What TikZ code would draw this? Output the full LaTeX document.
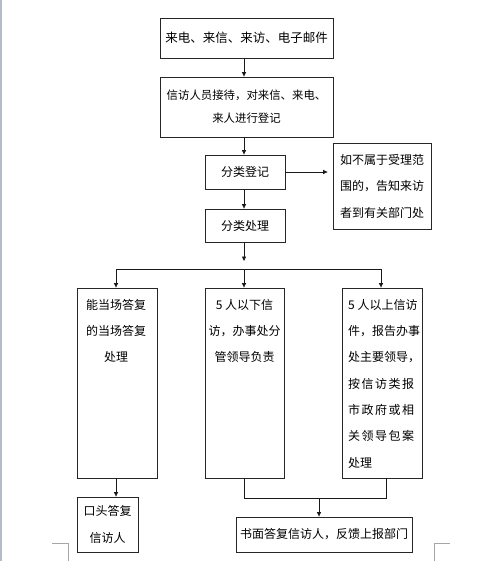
\documentclass[tikz,border=0pt]{standalone}
\usepackage{fontspec}
\setmainfont{Noto Sans CJK SC}
\usetikzlibrary{arrows.meta,calc}
\begin{document}
\begin{tikzpicture}[x=1pt,y=-1pt,
  box/.style={draw=black!85, line width=0.8pt, inner sep=0pt, align=center,
    font=\fontsize{12pt}{23pt}\selectfont},
  txt/.style={inner sep=0pt, font=\fontsize{12pt}{26.3pt}\selectfont},
  arr/.style={draw=black!90, line width=0.7pt, -{Triangle[length=4.5pt,width=4pt]}},
  ln/.style={draw=black!90, line width=0.7pt},
  cornermark/.style={draw=gray!70, line width=0.7pt}]
\useasboundingbox (0,0) rectangle (500,561);
\fill[white] (0,0) rectangle (500,561);
\draw[draw={rgb,255:red,180;green,188;blue,200}, line width=1.5pt] (0.75,0) -- (0.75,561);
% boxes
\node[box, minimum width=173pt, minimum height=40pt, font=\fontsize{12.5pt}{23pt}\selectfont] (b1) at (246.5,38) {来电、来信、来访、电子邮件};
\node[box, minimum width=173pt, minimum height=60pt, font=\fontsize{11.4pt}{23pt}\selectfont] (b2) at (246.5,107) {信访人员接待，对来信、来电、\\来人进行登记};
\node[box, minimum width=80pt, minimum height=34pt] (b3) at (245,172) {分类登记};
\node[box, minimum width=98pt, minimum height=86pt, font=\fontsize{12pt}{26.5pt}\selectfont] (side) at (382,186) {如不属于受理范\\围的，告知来访\\者到有关部门处};
\node[box, minimum width=80pt, minimum height=33pt] (b4) at (245,225.5) {分类处理};
\node[box, minimum width=80pt, minimum height=190pt] (b5) at (117,383) {};
\node[box, minimum width=79pt, minimum height=190pt] (b6) at (244.5,383) {};
\node[box, minimum width=80pt, minimum height=190pt] (b7) at (382,383) {};
\node[box, minimum width=61pt, minimum height=55pt, font=\fontsize{12pt}{27pt}\selectfont] (b8) at (107.5,524.5) {口头答复\\信访人};
\node[box, minimum width=176pt, minimum height=35pt] (b9) at (324,534.5) {书面答复信访人，反馈上报部门};
% texts in tall boxes
\node[txt, anchor=north, align=center] (t5) at (116,299) {能当场答复\\的当场答复\\处理};
\node[txt, anchor=north, align=center] (t6) at (244.5,299) {5 人以下信\\访，办事处分\\管领导负责};
\node[txt, anchor=north west, align=left] (t7) at (348,299) {5 人以上信访\\件，报告办事\\处主要领导，\\
  \makebox[66pt][s]{按\hfill 信\hfill 访\hfill 类\hfill 报}\\
  \makebox[66pt][s]{市\hfill 政\hfill 府\hfill 或\hfill 相}\\
  \makebox[66pt][s]{关\hfill 领\hfill 导\hfill 包\hfill 案}\\处理};
% connectors
\coordinate (j0) at (244,261);
\coordinate (hl) at (116,269);
\coordinate (hm) at (244,269);
\coordinate (hr) at (381,269);
\coordinate (m1) at (244,498);
\coordinate (m2) at (386,498);
\coordinate (m3) at (386,478);
\coordinate (mc) at (319,498);
\draw[arr] (b1.south -| 244,0) -- (b2.north -| 244,0);
\draw[arr] (b2.south -| 244,0) -- (b3.north -| 244,0);
\draw[arr] (b3.south -| 244,0) -- (b4.north -| 244,0);
\draw[arr, shorten >=5pt] (b3.east) -- (b3.east -| side.west);
\draw[arr] (b4.south -| j0) -- (j0);
\draw[ln] (hl) -- (hr);
\draw[arr] (hl) -- (hl |- b5.north);
\draw[arr] (hm) -- (hm |- b6.north);
\draw[arr] (hr) -- (hr |- b7.north);
\draw[arr] (b5.south -| hl) -- (hl |- b8.north);
\draw[ln] (b6.south -| m1) -- (m1) -- (m2) -- (m3);
\draw[arr] (mc) -- (mc |- b9.north);
% page corner marks
\draw[cornermark] (52,543) -- (68,543) -- (68,561);
\draw[cornermark] (434,561) -- (434,543) -- (450,543);
\end{tikzpicture}
\end{document}
